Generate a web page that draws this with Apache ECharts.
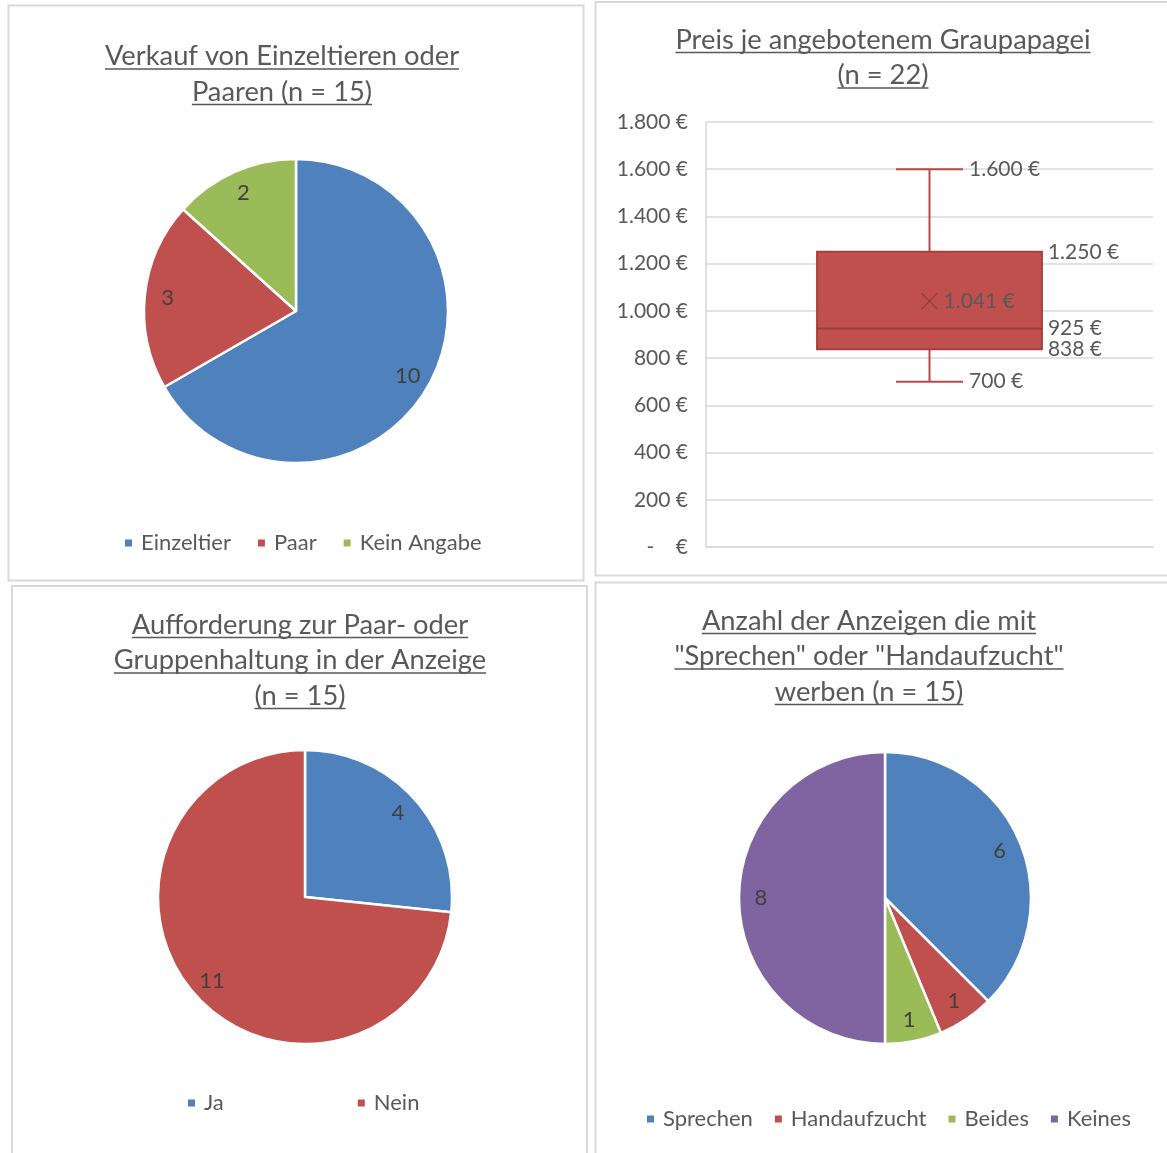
<!DOCTYPE html>
<html>
<head>
<meta charset="utf-8">
<script src="https://cdn.jsdelivr.net/npm/echarts@6/dist/echarts.min.js"></script>
<style>
html, body { margin: 0; padding: 0; background: #fff; }
#chart { width: 1167px; height: 1153px; }
</style>
</head>
<body>
<div id="chart"></div>
<script>
// Verkauf von Einzeltieren oder Paaren (n = 15)
var saleNames = ['Einzeltier', 'Paar', 'Kein Angabe'];
var saleValues = [10, 3, 2];

// Aufforderung zur Paar- oder Gruppenhaltung (n = 15)
var groupNames = ['Ja', 'Nein'];
var groupValues = [4, 11];

// Werbung mit "Sprechen" oder "Handaufzucht" (n = 15)
var adNames = ['Sprechen', 'Handaufzucht', 'Beides', 'Keines'];
var adValues = [6, 1, 1, 8];

// Preis je Graupapagei (n = 22): min, Q1, Median, Q3, max, Mittelwert
var priceStats = [700, 838, 925, 1250, 1600, 1041];
var priceTicks = [0, 200, 400, 600, 800, 1000, 1200, 1400, 1600, 1800];

var colors = ['#4f81bd', '#c0504d', '#9bbb59', '#8064a2'];
var FONT = 'Lato';
var TEXT = '#595959';

function euro(v) {
  if (v === 0) return '-    €';
  return String(v).replace(/\B(?=(\d{3})+(?!\d))/g, '.') + ' €';
}

function pieSeries(names, values, center, r) {
  return [{
    type: 'pie',
    center: center,
    radius: [0, r],
    startAngle: 90,
    itemStyle: { borderColor: '#fff', borderWidth: 2.5 },
    label: { show: false },
    labelLine: { show: false },
    emphasis: { disabled: true },
    data: names.map(function (n, i) {
      return { name: n, value: values[i], itemStyle: { color: colors[i] } };
    })
  }, {
    // nur fuer die Beschriftung, etwas weiter aussen wie bei Excel
    type: 'pie',
    center: center,
    radius: [r * 0.66, r],
    startAngle: 90,
    silent: true,
    itemStyle: { color: 'transparent' },
    label: { show: true, position: 'inside', formatter: '{c}', color: '#404040', fontSize: 22, fontFamily: FONT },
    labelLine: { show: false },
    data: names.map(function (n, i) { return { name: n, value: values[i] }; })
  }];
}

function legend(names, left, top, gap) {
  return {
    data: names, left: left, top: top, padding: 0,
    itemWidth: 9, itemHeight: 9, itemGap: gap, icon: 'rect',
    selectedMode: false,
    textStyle: { color: TEXT, fontSize: 22, fontFamily: FONT, padding: [0, 0, 0, 3] }
  };
}

// Titel (zentriert, unterstrichen)
var titleDefs = [
  { lines: ['Verkauf von Einzeltieren oder', 'Paaren (n = 15)'], x: 282, y: 56.5 },
  { lines: ['Preis je angebotenem Graupapagei', '(n = 22)'], x: 883, y: 40 },
  { lines: ['Aufforderung zur Paar- oder', 'Gruppenhaltung in der Anzeige', '(n = 15)'], x: 300, y: 625 },
  { lines: ['Anzahl der Anzeigen die mit', '"Sprechen" oder "Handaufzucht"', 'werben (n = 15)'], x: 869, y: 621 }
];
var titleSize = 27.3, lineH = 35.5;

var measure = document.createElement('canvas').getContext('2d');
measure.font = titleSize + 'px ' + FONT;

var titles = [];
var graphics = [
  { type: 'rect', shape: { x: 8.5, y: 5.5, width: 575, height: 575 }, style: { fill: 'none', stroke: '#d9d9d9', lineWidth: 2 }, z: -1 },
  { type: 'rect', shape: { x: 595.5, y: 2, width: 600, height: 573.5 }, style: { fill: 'none', stroke: '#d9d9d9', lineWidth: 2 }, z: -1 },
  { type: 'rect', shape: { x: 12, y: 586, width: 575, height: 600 }, style: { fill: 'none', stroke: '#d9d9d9', lineWidth: 2 }, z: -1 },
  { type: 'rect', shape: { x: 595.5, y: 582.5, width: 600, height: 600 }, style: { fill: 'none', stroke: '#d9d9d9', lineWidth: 2 }, z: -1 }
];
titleDefs.forEach(function (t) {
  titles.push({
    text: t.lines.join('\n'),
    left: t.x, top: t.y - lineH / 2, padding: 0, textAlign: 'center',
    textStyle: { color: TEXT, fontSize: titleSize, fontWeight: 'normal', fontFamily: FONT, lineHeight: lineH }
  });
  t.lines.forEach(function (line, i) {
    var w = measure.measureText(line).width;
    var yy = t.y + i * lineH + 12.5;
    graphics.push({
      type: 'line', silent: true,
      shape: { x1: t.x - w / 2, y1: yy, x2: t.x + w / 2, y2: yy },
      style: { stroke: TEXT, lineWidth: 1.5 }
    });
  });
});

var chart = echarts.init(document.getElementById('chart'));

var option = {
  backgroundColor: '#fff',
  animation: false,
  title: titles,
  graphic: graphics,
  legend: [
    legend(saleNames, 123, 532, 25),
    legend(groupNames, 186, 1092, 132),
    legend(adNames, 645, 1108, 20)
  ],
  grid: { left: 706, top: 122, width: 447, height: 425 },
  xAxis: {
    type: 'category', data: [''],
    axisLine: { show: true, lineStyle: { color: '#d9d9d9', width: 1.5 } },
    axisTick: { show: false }, axisLabel: { show: false }
  },
  yAxis: {
    type: 'value',
    min: priceTicks[0], max: priceTicks[priceTicks.length - 1], interval: priceTicks[1] - priceTicks[0],
    axisLine: { show: true, lineStyle: { color: '#d9d9d9', width: 1.5 } },
    axisTick: { show: false },
    splitLine: { lineStyle: { color: '#d9d9d9', width: 1.5 } },
    axisLabel: { margin: 18, color: TEXT, fontSize: 21, fontFamily: FONT, formatter: euro }
  },
  series: [].concat(
    pieSeries(saleNames, saleValues, [296, 311], 152),
    pieSeries(groupNames, groupValues, [305, 897], 147),
    pieSeries(adNames, adValues, [885, 898], 146),
    [{
      type: 'custom',
      data: [[0].concat(priceStats)],
      encode: { x: 0, y: [1, 2, 3, 4, 5, 6] },
      silent: true,
      renderItem: function (params, api) {
        var cx = api.coord([api.value(0), 0])[0];
        var band = api.size([1, 0])[0];
        var boxW = band * 0.503, capW = band * 0.15;
        function y(k) { return api.coord([api.value(0), api.value(k)])[1]; }
        var yMin = y(1), yQ1 = y(2), yMed = y(3), yQ3 = y(4), yMax = y(5), yMean = y(6);
        var whisker = { stroke: '#b8494a', lineWidth: 2 };
        var lblFont = { fill: TEXT, fontSize: 21, fontFamily: FONT, verticalAlign: 'middle', align: 'left' };
        function lbl(text, x, yy) {
          return { type: 'text', style: Object.assign({ text: text, x: x, y: yy }, lblFont), z2: 10 };
        }
        var bx = cx - boxW / 2;
        return {
          type: 'group',
          children: [
            { type: 'line', shape: { x1: cx, y1: yQ3, x2: cx, y2: yMax }, style: whisker },
            { type: 'line', shape: { x1: cx, y1: yQ1, x2: cx, y2: yMin }, style: whisker },
            { type: 'line', shape: { x1: cx - capW / 2, y1: yMax, x2: cx + capW / 2, y2: yMax }, style: whisker },
            { type: 'line', shape: { x1: cx - capW / 2, y1: yMin, x2: cx + capW / 2, y2: yMin }, style: whisker },
            { type: 'rect', shape: { x: bx, y: yQ3, width: boxW, height: yQ1 - yQ3 }, style: { fill: '#c0504d', stroke: '#a43f3d', lineWidth: 2 } },
            { type: 'line', shape: { x1: bx, y1: yMed, x2: bx + boxW, y2: yMed }, style: { stroke: '#9c3c3a', lineWidth: 2 } },
            { type: 'line', shape: { x1: cx - 8, y1: yMean - 8, x2: cx + 8, y2: yMean + 8 }, style: { stroke: '#96403d', lineWidth: 1.5 } },
            { type: 'line', shape: { x1: cx - 8, y1: yMean + 8, x2: cx + 8, y2: yMean - 8 }, style: { stroke: '#96403d', lineWidth: 1.5 } },
            lbl(euro(api.value(5)), cx + capW / 2 + 6, yMax),
            lbl(euro(api.value(1)), cx + capW / 2 + 6, yMin),
            lbl(euro(api.value(4)), bx + boxW + 6, yQ3),
            lbl(euro(api.value(3)), bx + boxW + 6, yMed),
            lbl(euro(api.value(2)), bx + boxW + 6, yQ1),
            lbl(euro(api.value(6)), cx + 14, yMean)
          ]
        };
      }
    }]
  )
};

chart.setOption(option);
</script>
</body>
</html>
